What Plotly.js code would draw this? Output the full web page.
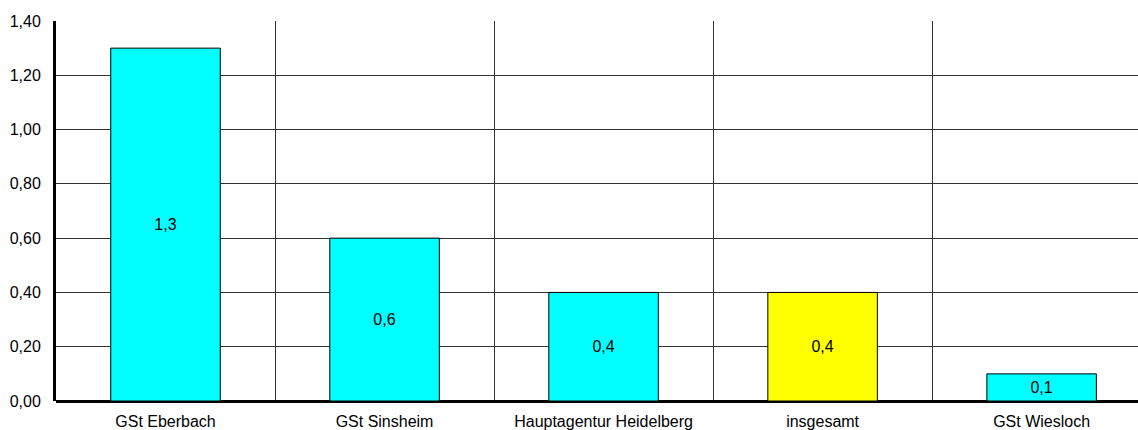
<!DOCTYPE html>
<html><head><meta charset="utf-8">
<script src="https://cdn.plot.ly/plotly-3.0.1.min.js"></script>
<style>html,body{margin:0;padding:0;background:#fff}#chart{width:1138px;height:430px}</style>
</head><body><div id="chart"></div>
<script>
const categories = ["GSt Eberbach", "GSt Sinsheim", "Hauptagentur Heidelberg", "insgesamt", "GSt Wiesloch"];
const values = [1.3, 0.6, 0.4, 0.4, 0.1];
const barColors = ["#00FFFF", "#00FFFF", "#00FFFF", "#FFFF00", "#00FFFF"];
const yTicks = [0, 0.2, 0.4, 0.6, 0.8, 1.0, 1.2, 1.4];

const idx = categories.map((c, i) => i);
const trace = {
  type: "bar",
  x: idx,
  y: values,
  width: 0.5,
  marker: {color: barColors, line: {color: "#000", width: 1}},
  texttemplate: "%{y:.1f}",
  textposition: "inside",
  insidetextanchor: "middle",
  textangle: 0,
  textfont: {family: "Liberation Sans, Arial, sans-serif", size: 16, color: "#000"},
  hoverinfo: "none"
};
const layout = {
  width: 1138, height: 430,
  margin: {l: 56, r: 0, t: 21, b: 29, pad: 0},
  paper_bgcolor: "#fff", plot_bgcolor: "#fff",
  separators: ",.",
  font: {family: "Liberation Sans, Arial, sans-serif", size: 16, color: "#000"},
  showlegend: false,
  bargap: 0.5,
  xaxis: {
    range: [-0.5, 4.44],
    tickmode: "array", tickvals: idx, ticktext: categories,
    showgrid: false, zeroline: false,
    ticks: "", ticklabelstandoff: 9,
    showline: false,
    minor: {tickmode: "linear", tick0: 0.5, dtick: 1, showgrid: true, gridcolor: "#333", gridwidth: 1, ticks: ""},
    fixedrange: true
  },
  yaxis: {
    range: [0, 1.4],
    tickmode: "array", tickvals: yTicks,
    tickformat: ".2f",
    showgrid: true, gridcolor: "#333", gridwidth: 1,
    zeroline: true, zerolinecolor: "#000", zerolinewidth: 3,
    showline: true, linecolor: "#000", linewidth: 3,
    ticks: "", ticklabelstandoff: 9,
    fixedrange: true
  }
};
Plotly.newPlot("chart", [trace], layout, {displayModeBar: false, staticPlot: true});
</script>
</body></html>
